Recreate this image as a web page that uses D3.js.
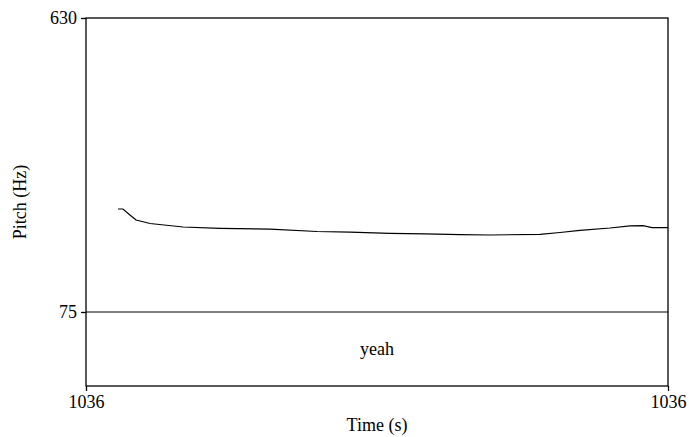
<!DOCTYPE html>
<html>
<head>
<meta charset="utf-8">
<script src="https://cdn.jsdelivr.net/npm/d3@7"></script>
<style>
  body { margin: 0; background: #fff; }
  text { font-family: "Liberation Serif", "Times New Roman", serif; font-size: 18px; fill: #000; }
</style>
</head>
<body>
<script>
//pitch track, time in seconds and pitch in Hz
var times = [1036.072, 1036.0754, 1036.0802, 1036.0844, 1036.094, 1036.1167, 1036.1421,
  1036.1765, 1036.2088, 1036.2314, 1036.2589, 1036.283, 1036.307, 1036.3277, 1036.362,
  1036.3758, 1036.3895, 1036.4101, 1036.4239, 1036.4328, 1036.439, 1036.45];
var pitch = [269.4, 269.4, 258.1, 248.7, 242.1, 235.5, 233.0,
  231.3, 227.0, 225.6, 223.6, 222.6, 221.1, 220.4, 221.5,
  225.1, 229.2, 233.6, 237.7, 238.1, 234.3, 234.3];

//axis range and tick labels
var timeRange = [1036.05, 1036.45];
var pitchRange = [75, 630];
var pitchTicks = [75, 630];

//text tier interval
var words = ["yeah"];
var wordStart = [1036.05];
var wordEnd = [1036.45];

var width = 689, height = 437;
var frameLeft = 86, frameRight = 668, frameTop = 18, tierTop = 312, frameBottom = 386;

var svg = d3.select("body")
  .append("svg")
  .attr("width", width)
  .attr("height", height);

var x = d3.scaleLinear().domain(timeRange).range([frameLeft, frameRight]);
var y = d3.scaleLinear().domain(pitchRange).range([tierTop, frameTop]);

//frame
svg.append("rect")
  .attr("x", frameLeft).attr("y", frameTop)
  .attr("width", frameRight - frameLeft).attr("height", frameBottom - frameTop)
  .attr("fill", "none").attr("stroke", "#000").attr("stroke-width", 1.3);

//separator between pitch and text tier
svg.append("line")
  .attr("x1", frameLeft).attr("x2", frameRight)
  .attr("y1", y(75)).attr("y2", y(75))
  .attr("stroke", "#000").attr("stroke-width", 1);

//left axis
var yAxis = d3.axisLeft(y).tickValues(pitchTicks).tickSize(5).tickPadding(4).tickFormat(d3.format("d"));
var gy = svg.append("g").attr("transform", "translate(" + frameLeft + ",0)").call(yAxis);
gy.select(".domain").remove();
gy.selectAll("text").style("font-size", "18px").style("font-family", "Liberation Serif");

//bottom axis
var xAxis = d3.axisBottom(x).tickValues(timeRange).tickSize(5).tickPadding(4).tickFormat(d3.format(".0f"));
var gx = svg.append("g").attr("transform", "translate(0," + frameBottom + ")").call(xAxis);
gx.select(".domain").remove();
gx.selectAll("text").style("font-size", "18px").style("font-family", "Liberation Serif");
svg.selectAll(".tick line").attr("stroke-width", 1.3);

//pitch line
var line = d3.line()
  .x(function(d, i){ return x(times[i]); })
  .y(function(d){ return y(d); });

svg.append("path")
  .datum(pitch)
  .attr("d", line)
  .attr("fill", "none")
  .attr("stroke", "#000")
  .attr("stroke-width", 1.2);

//text tier labels
svg.selectAll(".word")
  .data(words)
  .enter()
  .append("text")
  .attr("class", "word")
  .attr("x", function(d, i){ return x((wordStart[i] + wordEnd[i]) / 2); })
  .attr("y", (tierTop + frameBottom) / 2)
  .attr("dy", "0.35em")
  .attr("text-anchor", "middle")
  .text(function(d){ return d; });

//axis titles
svg.append("text")
  .attr("x", (frameLeft + frameRight) / 2)
  .attr("y", 431)
  .attr("text-anchor", "middle")
  .text("Time (s)");

svg.append("text")
  .attr("transform", "translate(26," + ((frameTop + frameBottom) / 2) + ") rotate(-90)")
  .attr("text-anchor", "middle")
  .text("Pitch (Hz)");
</script>
</body>
</html>
